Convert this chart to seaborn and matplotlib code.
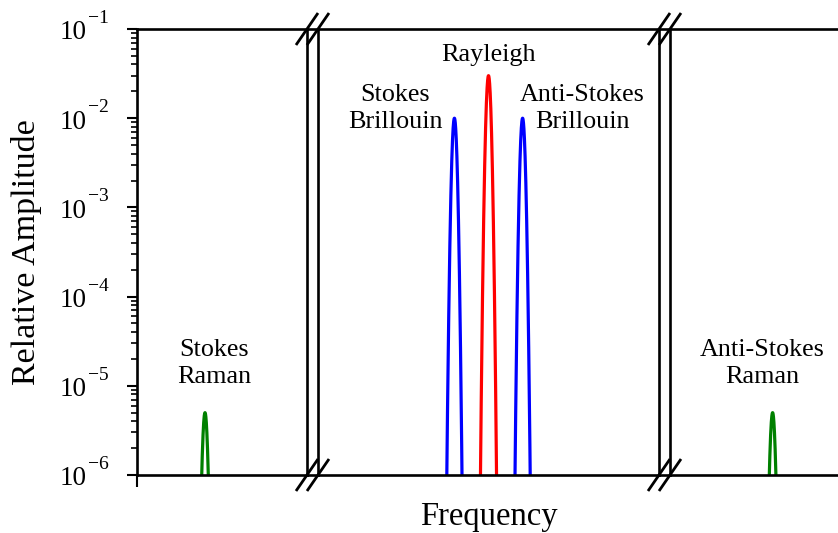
import numpy as np
import pandas as pd
import matplotlib
matplotlib.use("Agg")
import matplotlib.pyplot as plt
import matplotlib.transforms as mtransforms
import seaborn as sns
from matplotlib.lines import Line2D

sns.set_theme(style="ticks")
plt.rcParams['font.family'] = ['Liberation Serif', 'DejaVu Serif']
for key in ['text.color', 'axes.labelcolor', 'xtick.color', 'ytick.color']:
    plt.rcParams[key] = 'black'

# Panel ranges of the broken frequency axis (arbitrary units)
panel_limits = [(-10, -5), (-5, 5), (5, 10)]

# Spectral peaks: name, panel, centre, peak amplitude, colour
peak_names = ['Stokes Raman', 'Stokes Brillouin', 'Rayleigh',
              'Anti-Stokes Brillouin', 'Anti-Stokes Raman']
peak_panel = [0, 1, 1, 1, 2]
peak_center = [-8.0, -1.0, 0.0, 1.0, 8.0]
peak_amplitude = [5e-6, 1e-2, 3e-2, 1e-2, 5e-6]
peak_width = [0.054, 0.052, 0.052, 0.052, 0.054]
peak_color = ['#008000', '#0000ff', '#ff0000', '#0000ff', '#008000']

# Annotation labels: text, panel, x, log10(y)
label_text = ['Stokes\nRaman', 'Stokes\nBrillouin', 'Rayleigh',
              'Anti-Stokes\nBrillouin', 'Anti-Stokes\nRaman']
label_panel = [0, 1, 1, 1, 2]
label_x = [-7.74, -2.74, 0.01, 2.76, 7.71]
label_logy = [-4.75, -1.89, -1.29, -1.89, -4.75]

# y axis decades
decades = [-6, -5, -4, -3, -2, -1]

fig = plt.figure(figsize=(8.38, 5.33), dpi=100)
W, H = 838, 533
y0, y1 = 475, 29
px_panels = [(137, 307), (318, 659), (670, 841)]
axes = []
for (a, b) in px_panels:
    ax = fig.add_axes([a / W, 1 - y0 / H, (b - a) / W, (y0 - y1) / H])
    axes.append(ax)

lw_spine = 1.9
for i, ax in enumerate(axes):
    ax.set_yscale('log')
    ax.set_ylim(1e-6, 1e-1)
    ax.set_xlim(*panel_limits[i])
    for s in ax.spines.values():
        s.set_linewidth(lw_spine)
        s.set_color('black')
    ax.set_facecolor('white')

for k in range(len(peak_names)):
    ax = axes[peak_panel[k]]
    c, w = peak_center[k], peak_width[k]
    x = np.linspace(c - 6 * w, c + 6 * w, 400)
    y = peak_amplitude[k] * np.exp(-(x - c) ** 2 / (2 * w ** 2))
    df = pd.DataFrame({'freq': x, 'amp': y})
    sns.lineplot(data=df, x='freq', y='amp', ax=ax, color=peak_color[k],
                 linewidth=2.3, sort=False, estimator=None)

for k in range(len(label_text)):
    ax = axes[label_panel[k]]
    ax.text(label_x[k], 10 ** label_logy[k], label_text[k], ha='center',
            va='center', fontsize=18.8, linespacing=1.32, multialignment='center')

# left panel: y ticks with MATLAB-like raised exponents
axl = axes[0]
axl.set_yticks([10.0 ** d for d in decades])
axl.set_yticklabels([''] * len(decades))
axl.yaxis.set_minor_locator(matplotlib.ticker.LogLocator(base=10, subs=np.arange(2, 10)))
axl.yaxis.set_minor_formatter(matplotlib.ticker.NullFormatter())
axl.tick_params(axis='y', which='major', direction='out', length=7.5, width=1.5, right=False)
axl.tick_params(axis='y', which='minor', direction='out', length=4, width=1.2, right=False)
blend = mtransforms.blended_transform_factory(axl.transAxes, axl.transData)
for d in decades:
    t_base = mtransforms.offset_copy(blend, fig=fig, x=-50, y=-4, units='dots')
    t_exp = mtransforms.offset_copy(blend, fig=fig, x=-49, y=10.5, units='dots')
    axl.text(0, 10.0 ** d, '10', transform=t_base, ha='right', va='center',
             fontsize=19.5, clip_on=False)
    axl.text(0, 10.0 ** d, '\u2212' + str(-d), transform=t_exp, ha='left',
             va='center', fontsize=14, clip_on=False)

axl.set_xticks([panel_limits[0][0]])
axl.set_xticklabels([''])
axl.tick_params(axis='x', which='major', direction='out', length=8.5, width=1.5)
axl.set_ylabel('Relative Amplitude', fontsize=24.5)
axl.yaxis.set_label_coords((42 - 137) / 170, 0.5)
axl.set_xlabel('')

for ax in axes[1:]:
    ax.set_yticks([])
    ax.yaxis.set_minor_locator(matplotlib.ticker.NullLocator())
    ax.set_xticks([])
    ax.set_ylabel('')
    ax.set_xlabel('')
axes[1].set_xlabel('Frequency', fontsize=23.5, labelpad=19)
axes[2].spines['right'].set_visible(False)

# bridge the top/bottom lines across the gaps, and draw the break marks
for (xa, xb) in [(307, 318), (659, 670)]:
    for yy in (y1, y0):
        fig.add_artist(Line2D([xa / W, xb / W], [1 - yy / H, 1 - yy / H],
                              color='black', lw=lw_spine))
        for xc in (xa, xb):
            fig.add_artist(Line2D([(xc - 11) / W, (xc + 11) / W],
                                  [1 - (yy + 16) / H, 1 - (yy - 16) / H],
                                  color='black', lw=2.0, solid_capstyle='butt'))

fig.savefig('out.png', dpi=100, facecolor='white')
